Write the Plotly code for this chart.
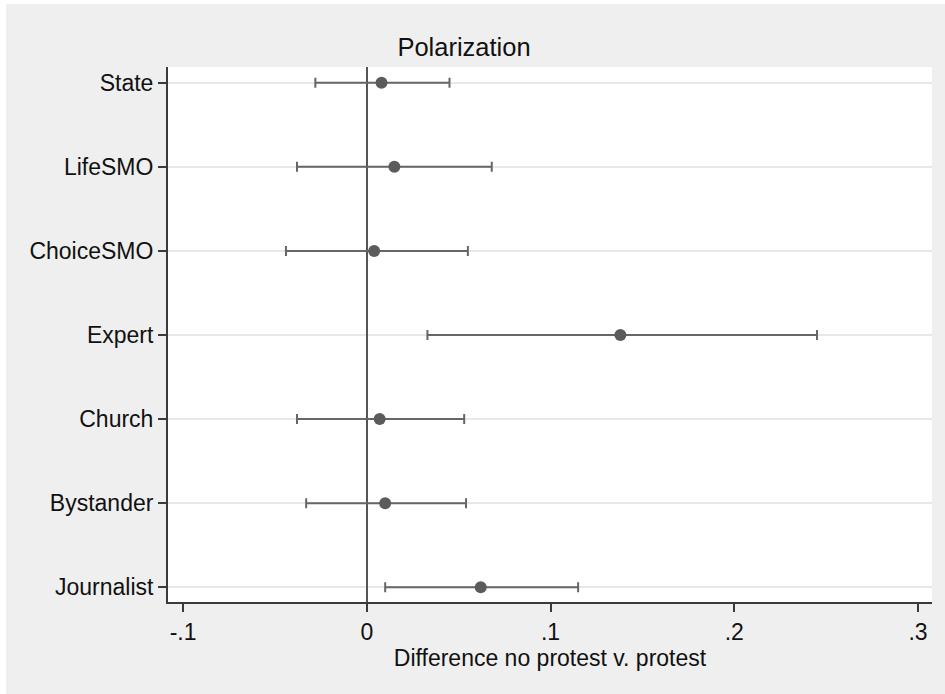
import plotly.graph_objects as go

categories = ["State", "LifeSMO", "ChoiceSMO", "Expert", "Church", "Bystander", "Journalist"]
point = [0.008, 0.015, 0.004, 0.138, 0.007, 0.010, 0.062]
lower = [-0.028, -0.038, -0.044, 0.033, -0.038, -0.033, 0.010]
upper = [0.045, 0.068, 0.055, 0.245, 0.053, 0.054, 0.115]

x_tickvals = [-0.1, 0, 0.1, 0.2, 0.3]
x_ticktext = ["-.1", "0", ".1", ".2", ".3"]

FONT = "Liberation Sans, Arial, Helvetica, sans-serif"
W, H = 945, 694
ML, MR, MT, MB = 168, 13, 67, 92
FS = 23

fig = go.Figure()
fig.add_trace(go.Scatter(
    x=point, y=categories, mode="markers",
    marker=dict(size=12, color="#5b5b5b", line=dict(width=0)),
    error_x=dict(type="data", symmetric=False,
                 array=[u - p for u, p in zip(upper, point)],
                 arrayminus=[p - l for p, l in zip(point, lower)],
                 color="#666666", thickness=2, width=5),
    showlegend=False, hoverinfo="x+y",
))

fig.update_layout(
    width=W, height=H,
    margin=dict(l=ML, r=MR, t=MT, b=MB, pad=0),
    paper_bgcolor="#efefef", plot_bgcolor="white",
    font=dict(family=FONT, size=FS, color="#111111"),
    title=dict(text="Polarization", x=464 / W, xanchor="center", xref="container",
               y=1 - 47 / H, yanchor="middle", yref="container",
               font=dict(family=FONT, size=25.5, color="#111111")),
    xaxis=dict(range=[-0.1082, 0.3076], tickvals=x_tickvals, ticktext=x_ticktext,
               showgrid=False, zeroline=True, zerolinecolor="#555555", zerolinewidth=1.5,
               showline=True, linecolor="#3a3a3a", linewidth=2,
               ticks="outside", ticklen=8, tickwidth=2, tickcolor="#3a3a3a",
               tickfont=dict(family=FONT, size=FS, color="#111111"),
               title=dict(text="Difference no protest v. protest", standoff=5,
                          font=dict(family=FONT, size=FS, color="#111111"))),
    yaxis=dict(type="category", categoryorder="array", categoryarray=list(reversed(categories)),
               range=[-0.175, 6.187],
               showgrid=True, gridcolor="#e8e8e8", gridwidth=1.5,
               zeroline=False,
               showline=True, linecolor="#3a3a3a", linewidth=2,
               ticks="outside", ticklen=8, tickwidth=2, tickcolor="#3a3a3a",
               tickfont=dict(family=FONT, size=FS, color="#111111")),
)

# thin white strips along the top and left edges of the image
fig.add_shape(type="rect", xref="paper", yref="paper",
              x0=-ML / (W - ML - MR) - 0.01, x1=(W - ML) / (W - ML - MR) + 0.01,
              y0=1 + (MT - 4) / (H - MT - MB), y1=1 + MT / (H - MT - MB) + 0.01,
              fillcolor="white", line=dict(width=0), layer="above")
fig.add_shape(type="rect", xref="paper", yref="paper",
              x0=-ML / (W - ML - MR) - 0.01, x1=-(ML - 6) / (W - ML - MR),
              y0=-MB / (H - MT - MB) - 0.01, y1=1 + MT / (H - MT - MB) + 0.01,
              fillcolor="white", line=dict(width=0), layer="above")

fig.write_html("out.html", config={"displayModeBar": False},
               post_script="document.body.style.margin='0';document.body.style.overflow='hidden';"
                           "document.body.style.background='#efefef';")
